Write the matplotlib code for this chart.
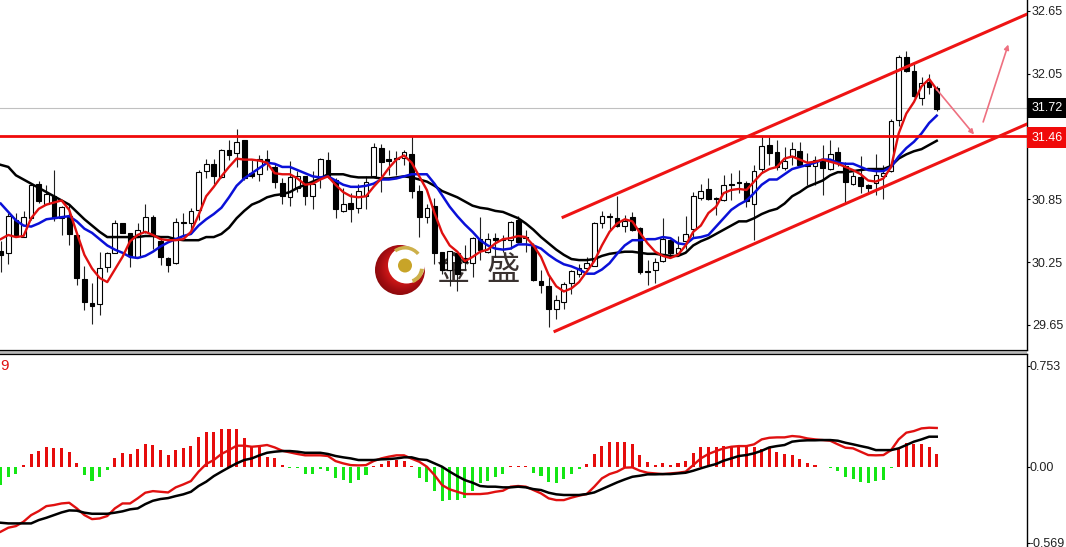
import numpy as np
import matplotlib
matplotlib.use('Agg')
import matplotlib.pyplot as plt
from matplotlib.colors import LinearSegmentedColormap
from matplotlib.patches import Circle, Wedge

W, H = 1066, 547

opens = [30.36,30.34,30.65,30.49,30.67,31.00,30.81,30.88,30.67,30.69,
         30.51,30.09,29.86,29.85,30.20,30.34,30.62,30.53,30.30,30.54,
         30.68,30.45,30.29,30.24,30.63,30.62,30.75,31.12,31.19,31.06,
         31.32,31.29,31.42,31.10,31.09,31.24,31.16,31.01,30.87,30.96,
         31.07,30.88,31.05,31.23,31.04,30.74,30.82,30.77,30.88,31.07,
         31.34,31.24,31.25,31.25,31.28,30.93,30.68,30.79,30.35,30.18,
         30.34,30.29,30.24,30.47,30.35,30.48,30.47,30.46,30.65,30.49,
         30.40,30.07,30.02,29.80,29.87,30.05,30.14,30.19,30.21,30.62,
         30.69,30.67,30.60,30.68,30.58,30.17,30.18,30.26,30.46,30.34,
         30.45,30.57,30.86,30.95,30.86,30.84,31.00,31.02,31.01,30.81,
         31.14,31.37,31.30,31.15,31.26,31.31,31.18,31.17,31.24,31.14,
         31.30,31.17,31.00,31.06,30.99,31.01,31.07,31.12,31.61,32.21,
         32.08,31.82,31.97,31.91]
highs = [30.45,30.72,30.72,30.74,31.00,31.03,30.99,31.13,30.79,30.80,
         30.51,30.21,30.05,30.35,30.35,30.65,30.62,30.53,30.62,30.81,
         30.70,30.49,30.30,30.67,30.72,30.77,31.13,31.24,31.24,31.33,
         31.42,31.52,31.42,31.23,31.27,31.32,31.20,31.05,31.22,31.12,
         31.07,31.12,31.25,31.30,31.05,30.96,30.91,31.00,31.07,31.39,
         31.38,31.32,31.31,31.32,31.46,30.99,30.81,30.86,30.35,30.36,
         30.35,30.41,30.49,30.68,30.53,30.53,30.51,30.64,30.69,30.56,
         30.43,30.18,30.13,29.94,30.06,30.18,30.23,30.30,30.63,30.74,
         30.72,30.88,30.70,30.73,30.59,30.27,30.29,30.67,30.47,30.50,
         30.69,30.92,31.00,31.05,30.87,31.08,31.10,31.13,31.03,31.18,
         31.46,31.45,31.42,31.35,31.40,31.40,31.29,31.26,31.37,31.42,
         31.35,31.21,31.11,31.26,31.00,31.28,31.18,31.62,32.23,32.27,
         32.14,32.02,32.05,31.93]
lows = [30.16,30.23,30.49,30.49,30.65,30.82,30.80,30.64,30.51,30.41,
        30.03,29.79,29.66,29.75,30.16,30.34,30.53,30.20,30.29,30.53,
        30.38,30.22,30.16,30.23,30.51,30.57,30.65,31.05,31.00,31.05,
        31.23,31.16,31.04,31.05,31.03,31.13,30.96,30.81,30.79,30.92,
        30.80,30.76,30.96,31.05,30.67,30.73,30.63,30.72,30.76,31.06,
        30.92,31.08,31.08,31.18,30.86,30.49,30.62,30.23,30.14,30.02,
        29.97,30.18,30.11,30.27,30.34,30.30,30.35,30.38,30.43,30.35,
        30.07,29.96,29.63,29.71,29.80,29.95,30.11,30.18,30.21,30.58,
        30.56,30.59,30.54,30.55,30.14,30.03,30.05,30.25,30.32,30.31,
        30.38,30.49,30.84,30.84,30.70,30.83,30.84,30.91,30.78,30.46,
        31.10,31.18,31.13,31.13,31.18,31.17,30.99,30.99,30.89,31.13,
        31.17,30.81,30.99,30.91,30.92,30.89,30.85,31.11,31.55,32.07,
        31.83,31.75,31.86,31.69]
closes = [30.32,30.69,30.50,30.68,30.99,30.83,30.90,30.67,30.78,30.52,
          30.10,29.87,29.83,30.19,30.34,30.62,30.53,30.31,30.56,30.68,
          30.51,30.30,30.22,30.63,30.62,30.74,31.11,31.19,31.07,31.32,
          31.27,31.40,31.05,31.07,31.24,31.20,31.02,30.88,31.06,31.07,
          30.88,31.00,31.24,31.07,30.76,30.81,30.76,30.93,31.02,31.35,
          31.21,31.22,31.24,31.30,30.93,30.68,30.77,30.34,30.18,30.36,
          30.14,30.25,30.48,30.37,30.47,30.46,30.46,30.63,30.44,30.48,
          30.08,30.03,29.80,29.89,30.04,30.17,30.19,30.24,30.62,30.69,
          30.68,30.60,30.64,30.56,30.16,30.16,30.25,30.47,30.34,30.39,
          30.52,30.88,30.93,30.85,30.85,30.99,30.99,31.01,30.83,31.12,
          31.36,31.29,31.16,31.22,31.33,31.18,31.17,31.23,31.15,31.28,
          31.22,31.02,31.07,30.98,30.96,31.08,31.10,31.60,32.21,32.08,
          31.84,31.96,31.92,31.71]

ma_red = [30.47,30.51,30.49,30.50,30.67,30.76,30.80,30.82,30.84,30.75,
          30.53,30.32,30.19,30.10,30.06,30.18,30.30,30.45,30.51,30.54,
          30.51,30.47,30.46,30.46,30.47,30.54,30.70,30.88,30.97,31.07,
          31.16,31.24,31.23,31.23,31.22,31.20,31.10,31.09,31.09,31.05,
          30.99,31.00,31.04,31.07,30.99,30.92,30.88,30.87,30.88,30.97,
          31.05,31.15,31.23,31.27,31.20,31.07,30.94,30.72,30.53,30.41,
          30.35,30.26,30.30,30.35,30.37,30.43,30.47,30.48,30.50,30.49,
          30.41,30.30,30.13,30.02,29.97,30.00,30.06,30.16,30.26,30.41,
          30.54,30.62,30.66,30.64,30.53,30.43,30.35,30.31,30.29,30.32,
          30.41,30.54,30.60,30.72,30.78,30.91,30.94,30.95,30.94,31.02,
          31.10,31.14,31.16,31.24,31.26,31.23,31.20,31.21,31.23,31.21,
          31.19,31.16,31.13,31.09,31.03,31.02,31.05,31.16,31.48,31.67,
          31.78,31.93,32.00,31.90]
ma_blue = [30.81,30.73,30.65,30.60,30.59,30.62,30.66,30.67,30.68,30.69,
           30.64,30.57,30.53,30.47,30.41,30.37,30.34,30.30,30.29,30.31,
           30.35,30.40,30.44,30.47,30.50,30.52,30.60,30.66,30.71,30.77,
           30.87,30.98,31.05,31.10,31.15,31.20,31.19,31.16,31.16,31.13,
           31.10,31.07,31.06,31.07,31.03,30.99,30.97,30.97,30.98,31.00,
           31.04,31.04,31.05,31.07,31.09,31.09,31.09,31.00,30.89,30.78,
           30.69,30.61,30.54,30.46,30.41,30.38,30.37,30.38,30.42,30.42,
           30.41,30.38,30.32,30.27,30.23,30.21,30.18,30.14,30.14,30.18,
           30.24,30.33,30.41,30.46,30.46,30.47,30.47,30.49,30.48,30.43,
           30.42,30.48,30.49,30.51,30.59,30.67,30.75,30.80,30.84,30.91,
           30.99,31.04,31.04,31.09,31.14,31.16,31.18,31.20,31.23,31.23,
           31.20,31.19,31.19,31.16,31.13,31.12,31.12,31.16,31.26,31.34,
           31.40,31.48,31.58,31.65]
ma_black = [31.18,31.16,31.08,31.04,31.00,30.96,30.92,30.88,30.84,30.80,
            30.73,30.66,30.60,30.54,30.49,30.49,30.49,30.49,30.49,30.50,
            30.50,30.49,30.49,30.47,30.46,30.46,30.46,30.49,30.49,30.52,
            30.58,30.67,30.74,30.80,30.83,30.87,30.89,30.90,30.92,30.96,
            30.99,31.02,31.05,31.09,31.09,31.09,31.07,31.06,31.06,31.06,
            31.05,31.05,31.06,31.07,31.06,31.04,31.02,30.98,30.93,30.90,
            30.87,30.83,30.79,30.77,30.76,30.74,30.73,30.70,30.67,30.62,
            30.56,30.49,30.43,30.37,30.32,30.28,30.27,30.27,30.28,30.31,
            30.33,30.34,30.35,30.35,30.34,30.33,30.33,30.32,30.31,30.31,
            30.34,30.41,30.45,30.48,30.52,30.56,30.60,30.64,30.64,30.67,
            30.71,30.74,30.76,30.81,30.88,30.92,30.97,31.00,31.03,31.08,
            31.11,31.11,31.12,31.13,31.14,31.14,31.14,31.17,31.24,31.28,
            31.31,31.33,31.37,31.41]

macd_hist = [-.137,-.075,-.055,.012,.092,.119,.149,.139,.139,.112,
             .030,-.062,-.107,-.075,-.025,.067,.100,.092,.132,.167,
             .159,.124,.085,.124,.139,.157,.224,.259,.259,.279,
             .279,.279,.211,.154,.149,.075,.067,.010,-.006,-.008,
             -.055,-.055,-.020,-.032,-.087,-.100,-.119,-.100,-.062,.008,
             .020,.042,.050,.042,.006,-.082,-.112,-.182,-.254,-.249,
             -.249,-.236,-.182,-.124,-.107,-.075,-.055,.005,.005,.005,
             -.045,-.070,-.117,-.124,-.095,-.055,-.015,.020,.092,.157,
             .184,.184,.184,.167,.085,.037,.012,.025,.012,.025,
             .045,.100,.149,.149,.144,.154,.154,.149,.149,.144,
             .132,.137,.112,.092,.085,.055,.025,.010,-.005,-.007,
             -.030,-.075,-.092,-.117,-.124,-.107,-.100,-.012,.134,.174,
             .169,.169,.144,.092]
macd_red = [-.485,-.455,-.443,-.410,-.361,-.331,-.294,-.286,-.274,-.269,
            -.311,-.361,-.391,-.386,-.368,-.311,-.274,-.274,-.236,-.194,
            -.182,-.187,-.192,-.154,-.132,-.107,-.037,.020,.050,.095,
            .124,.157,.157,.149,.154,.162,.144,.119,.107,.095,
            .085,.085,.085,.080,.042,.025,.012,.010,.012,.042,
            .062,.075,.085,.085,.060,.037,.000,-.062,-.137,-.169,
            -.187,-.204,-.204,-.204,-.199,-.187,-.179,-.149,-.144,-.149,
            -.174,-.199,-.236,-.249,-.249,-.231,-.216,-.204,-.149,-.087,
            -.055,-.037,-.007,-.005,-.030,-.045,-.050,-.055,-.050,-.045,
            -.037,.012,.062,.095,.117,.137,.149,.154,.154,.167,
            .204,.216,.219,.219,.229,.224,.211,.204,.199,.194,
            .167,.142,.137,.112,.087,.085,.087,.124,.204,.254,
            .266,.286,.291,.289]
macd_black = [-.418,-.423,-.423,-.423,-.423,-.398,-.381,-.361,-.341,-.326,
              -.328,-.343,-.351,-.351,-.351,-.343,-.333,-.318,-.311,-.279,
              -.254,-.241,-.234,-.219,-.206,-.187,-.144,-.112,-.070,-.037,
              -.005,.025,.050,.062,.085,.104,.112,.117,.117,.112,
              .104,.104,.104,.095,.080,.070,.062,.050,.050,.050,
              .055,.057,.062,.070,.070,.055,.050,.025,.000,-.037,
              -.070,-.100,-.119,-.144,-.149,-.149,-.154,-.154,-.149,-.154,
              -.167,-.174,-.194,-.206,-.211,-.211,-.211,-.204,-.192,-.167,
              -.142,-.117,-.095,-.075,-.067,-.057,-.057,-.055,-.055,-.050,
              -.045,-.030,-.012,.005,.020,.045,.062,.080,.087,.100,
              .119,.144,.154,.162,.187,.194,.197,.197,.199,.199,
              .194,.179,.167,.154,.142,.124,.124,.124,.137,.162,
              .187,.204,.224,.224]

upper_channel = ([73.9, 134.86], [30.68, 32.62])
lower_channel = ([72.84, 134.86], [29.59, 31.57])
support = 31.46
last_price = 31.72
arrow_down = ((123.0, 31.90), (127.9, 31.47))
arrow_up = ((129.1, 31.59), (132.4, 32.33))

price_ticks = [32.65, 32.05, 30.85, 30.25, 29.65]
macd_ticks = [0.753, 0.00, -0.569]
macd_tick_labels = ['0.753', '0.00', '-0.569']

x = np.arange(len(opens))
o, h, l, c = map(np.array, (opens, highs, lows, closes))
up = c >= o
hist = np.array(macd_hist)

plt.rcParams['font.family'] = ['Liberation Sans', 'DejaVu Sans']

fig = plt.figure(figsize=(W / 100, H / 100), dpi=100, facecolor='white')


def rect(left, top, right, bottom):
    return [left / W, 1 - bottom / H, (right - left) / W, (bottom - top) / H]


# logo goes under the price panel so that the candles cross it
logo = fig.add_axes(rect(372, 242, 428, 298), zorder=0)
logo.set_xlim(-1.12, 1.12)
logo.set_ylim(-1.12, 1.12)
logo.axis('off')
gx, gy = np.meshgrid(np.linspace(-1, 1, 200), np.linspace(-1, 1, 200))
shade = np.hypot(gx - 0.1, gy - 0.1)
red_cmap = LinearSegmentedColormap.from_list('logo', ['#f04030', '#d01818', '#a00c10', '#7a0808'])
img = logo.imshow(shade, extent=(-1, 1, -1, 1), origin='lower', cmap=red_cmap, vmin=0.2, vmax=1.3)
img.set_clip_path(Circle((0, 0), 1, transform=logo.transData))
logo.add_patch(Circle((0.26, 0.2), 0.74, fc='white', ec='none'))
logo.add_patch(Circle((0.2, 0.18), 0.28, fc='#c8a428', ec='none'))
logo.add_patch(Wedge((0.2, 0.2), 0.76, 40, 125, width=0.14, fc='#cdb04a', ec='none'))
logo.add_patch(Wedge((0.3, 0.1), 0.66, -70, -5, width=0.16, fc='#cdb04a', ec='none'))

ax = fig.add_axes(rect(0, 0, 1027, 350), zorder=1)
ax.patch.set_alpha(0)
ax.set_xlim(-0.092, 134.86)
ax.set_ylim(29.411, 32.755)

ax.text(57.2, 30.17, '金', family='Noto Sans CJK SC', fontsize=24, color='#3a3230',
        ha='left', va='center', zorder=1)
ax.text(63.8, 30.17, '盛', family='Noto Sans CJK SC', fontsize=24, color='#3a3230',
        ha='left', va='center', zorder=1)

ax.axhline(last_price, color='#c0c0c0', lw=0.8, zorder=1)
ax.vlines(x, l, h, color='#202020', lw=0.8, zorder=2)
ax.bar(x[up], (c - o)[up], 0.62, o[up], facecolor='white', edgecolor='black', linewidth=0.8, zorder=3)
ax.bar(x[~up], (o - c)[~up], 0.62, c[~up], facecolor='black', edgecolor='black', linewidth=0.8, zorder=3)

ax.plot(x, ma_black, color='black', lw=1.8, zorder=4)
ax.plot(x, ma_blue, color='#0a10d8', lw=1.8, zorder=5)
ax.plot(x, ma_red, color='#e01010', lw=1.7, zorder=6)

ax.axhline(support, color='#f00a0a', lw=2.0, zorder=7)
ax.plot(*upper_channel, color='#ee1414', lw=2.2, zorder=7)
ax.plot(*lower_channel, color='#ee1414', lw=2.2, zorder=7)
for start, end in (arrow_down, arrow_up):
    ax.annotate('', xy=end, xytext=start, zorder=8,
                arrowprops=dict(arrowstyle='-|>', color='#ee7080', lw=1.2, mutation_scale=7,
                                shrinkA=0, shrinkB=0))

ax.set_yticks(price_ticks)
ax.set_yticklabels(['%.2f' % t for t in price_ticks])
ax.set_xticks([])

sub = fig.add_axes(rect(0, 354, 1027, 547), zorder=1)
sub.set_xlim(-0.092, 134.86)
sub.set_ylim(-0.599, 0.841)
sub.bar(x[hist > 0], hist[hist > 0], 0.4, color='#e60c0c', zorder=2)
sub.bar(x[hist < 0], hist[hist < 0], 0.4, color='#14e614', zorder=2)
sub.plot(x, macd_red, color='#e01010', lw=1.7, zorder=3)
sub.plot(x, macd_black, color='black', lw=1.8, zorder=4)
sub.text(-0.092, 0.755, '9', color='#e01010', fontsize=11, ha='left', va='center')
sub.set_yticks(macd_ticks)
sub.set_yticklabels(macd_tick_labels)
sub.set_xticks([])

for a, label_pad in ((ax, 1.5), (sub, 0)):
    a.yaxis.tick_right()
    a.tick_params(axis='y', length=2, width=0.8, pad=label_pad, labelsize=9, labelcolor='#222222')
    for side in ('left', 'top'):
        a.spines[side].set_visible(False)
    a.spines['right'].set_linewidth(1.0)
    a.spines['bottom'].set_linewidth(0.9)
sub.spines['top'].set_visible(True)
sub.spines['top'].set_linewidth(0.9)
sub.spines['bottom'].set_visible(False)

# grey strip between the two panels
fig.patches.append(plt.Rectangle((0, 1 - 354 / H), 1027 / W, 4 / H, transform=fig.transFigure,
                                 fc='#b8b8b8', ec='none', zorder=0))

# price boxes on the axis
for value, face, shift in ((last_price, 'black', 0), (support, '#f00a0a', -2)):
    ax.annotate('%.2f' % value, xy=(1, value), xycoords=('axes fraction', 'data'),
                xytext=(20, shift), textcoords='offset pixels', color='white', fontsize=9,
                ha='center', va='center', annotation_clip=False, zorder=10,
                bbox=dict(boxstyle='square,pad=0.33', fc=face, ec='none'))

fig.savefig('out.png', dpi=100)
